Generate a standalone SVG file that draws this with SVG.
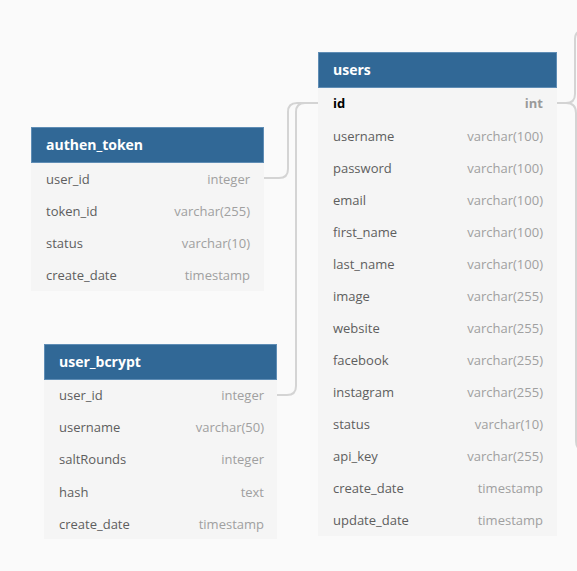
<svg xmlns="http://www.w3.org/2000/svg" width="577" height="571" viewBox="0 0 577 571">
<style>
.bg{fill:#fafafa}
.body{fill:#f5f5f5}
.hdr{fill:#316896;stroke:#5f8db5;stroke-width:1}
.title{font-family:"Open Sans","Noto Sans",sans-serif;font-size:14px;font-weight:bold;fill:#ffffff}
.f{font-family:"Open Sans","Noto Sans",sans-serif;font-size:13px;fill:#5e5e5e}
.t{font-family:"Open Sans","Noto Sans",sans-serif;font-size:13px;fill:#a0a0a0;text-anchor:end}
.pk{font-weight:bold;fill:#000000}
.pkt{font-weight:bold;fill:#9a9a9a}
.conn{fill:none;stroke:#d4d4d4;stroke-width:2}
</style>
<rect class="bg" x="0" y="0" width="577" height="571"/>
<g id="connectors">
<path class="conn" d="M264,178 H279 Q288,178 288,169 V112 Q288,103 297,103 H318"/>
<path class="conn" d="M277,395 H287 Q296,395 296,386 V112 Q296,103 305,103 H318"/>
<path class="conn" d="M557,103 H566 Q575,103 575,94 V39 Q575,31 583,31"/>
<path class="conn" d="M557,103 H566 Q576,103 576,113 V441 Q576,450 584,450"/>
</g>
<g id="users">
<rect class="body" x="318" y="87" width="239" height="449"/>
<rect class="hdr" x="318.5" y="52.5" width="238" height="35"/>
<text class="title" x="333" y="75">users</text>
<text class="f pk" x="333" y="108">id</text><text class="t pkt" x="543" y="108">int</text>
<text class="f" x="333" y="141">username</text><text class="t" x="543" y="141">varchar(100)</text>
<text class="f" x="333" y="173">password</text><text class="t" x="543" y="173">varchar(100)</text>
<text class="f" x="333" y="205">email</text><text class="t" x="543" y="205">varchar(100)</text>
<text class="f" x="333" y="237">first_name</text><text class="t" x="543" y="237">varchar(100)</text>
<text class="f" x="333" y="269">last_name</text><text class="t" x="543" y="269">varchar(100)</text>
<text class="f" x="333" y="301">image</text><text class="t" x="543" y="301">varchar(255)</text>
<text class="f" x="333" y="333">website</text><text class="t" x="543" y="333">varchar(255)</text>
<text class="f" x="333" y="365">facebook</text><text class="t" x="543" y="365">varchar(255)</text>
<text class="f" x="333" y="397">instagram</text><text class="t" x="543" y="397">varchar(255)</text>
<text class="f" x="333" y="429">status</text><text class="t" x="543" y="429">varchar(10)</text>
<text class="f" x="333" y="461">api_key</text><text class="t" x="543" y="461">varchar(255)</text>
<text class="f" x="333" y="493">create_date</text><text class="t" x="543" y="493">timestamp</text>
<text class="f" x="333" y="525">update_date</text><text class="t" x="543" y="525">timestamp</text>
</g>
<g id="authen_token">
<rect class="body" x="31" y="162" width="233" height="129"/>
<rect class="hdr" x="31.5" y="127.5" width="232" height="35"/>
<text class="title" x="46" y="150">authen_token</text>
<text class="f" x="46" y="184">user_id</text><text class="t" x="250" y="184">integer</text>
<text class="f" x="46" y="216">token_id</text><text class="t" x="250" y="216">varchar(255)</text>
<text class="f" x="46" y="248">status</text><text class="t" x="250" y="248">varchar(10)</text>
<text class="f" x="46" y="280">create_date</text><text class="t" x="250" y="280">timestamp</text>
</g>
<g id="user_bcrypt">
<rect class="body" x="44" y="379" width="233" height="160"/>
<rect class="hdr" x="44.5" y="344.5" width="232" height="35"/>
<text class="title" x="59" y="367">user_bcrypt</text>
<text class="f" x="59" y="400">user_id</text><text class="t" x="264" y="400">integer</text>
<text class="f" x="59" y="432">username</text><text class="t" x="264" y="432">varchar(50)</text>
<text class="f" x="59" y="464">saltRounds</text><text class="t" x="264" y="464">integer</text>
<text class="f" x="59" y="497">hash</text><text class="t" x="264" y="497">text</text>
<text class="f" x="59" y="529">create_date</text><text class="t" x="264" y="529">timestamp</text>
</g>
</svg>
